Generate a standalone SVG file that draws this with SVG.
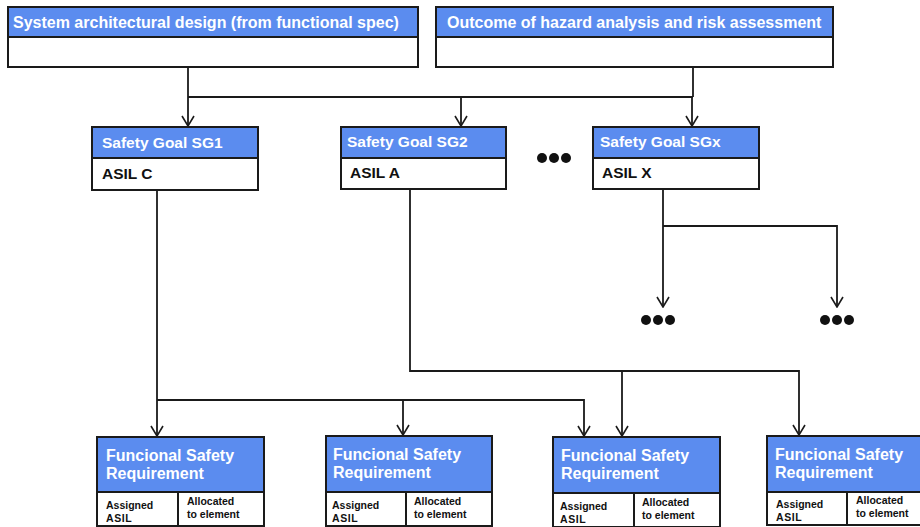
<svg xmlns="http://www.w3.org/2000/svg" width="920" height="527" viewBox="0 0 920 527">
<defs>
<marker id="arr" viewBox="0 0 14 12" refX="7" refY="11" markerWidth="14" markerHeight="12" markerUnits="userSpaceOnUse" orient="0">
<path d="M1,1 L7,11 L13,1" fill="none" stroke="#1a1a1a" stroke-width="1.6"/>
</marker>
</defs>
<style>
.hdr{fill:#5b8cef;stroke:#1a1a1a;stroke-width:2}
.body{fill:#ffffff;stroke:#1a1a1a;stroke-width:2}
.ht{font-family:"Liberation Sans",Arial,sans-serif;font-weight:bold;fill:#ffffff}
.bt{font-family:"Liberation Sans",Arial,sans-serif;font-weight:bold;fill:#111111}
.ln{fill:none;stroke:#1a1a1a;stroke-width:1.8}
.dot{fill:#111111}
</style>
<rect width="920" height="527" fill="#ffffff"/>

<g id="connectors">
<path class="ln" d="M188,67 V97"/>
<path class="ln" d="M693,67 V97"/>
<path class="ln" d="M188,97 H693"/>
<path class="ln" d="M188,97 V126" marker-end="url(#arr)"/>
<path class="ln" d="M461,97 V126" marker-end="url(#arr)"/>
<path class="ln" d="M692,97 V126" marker-end="url(#arr)"/>
<path class="ln" d="M663,189 V307" marker-end="url(#arr)"/>
<path class="ln" d="M663,226 H837 V307" marker-end="url(#arr)"/>
<path class="ln" d="M157,190 V436" marker-end="url(#arr)"/>
<path class="ln" d="M157,400 H584 V436" marker-end="url(#arr)"/>
<path class="ln" d="M403,400 V435" marker-end="url(#arr)"/>
<path class="ln" d="M410,189 V371 H799 V435" marker-end="url(#arr)"/>
<path class="ln" d="M622,371 V436" marker-end="url(#arr)"/>
</g>

<g id="sysarch">
<rect class="hdr" x="8" y="7" width="410" height="30"/>
<rect class="body" x="8" y="37" width="410" height="30"/>
<text class="ht" x="13" y="28" font-size="16">System architectural design (from functional spec)</text>
</g>

<g id="hara">
<rect class="hdr" x="436" y="7" width="397" height="30"/>
<rect class="body" x="436" y="37" width="397" height="30"/>
<text class="ht" x="447" y="28" font-size="16">Outcome of hazard analysis and risk assessment</text>
</g>

<g id="sg1">
<rect class="hdr" x="92" y="127" width="166" height="31"/>
<rect class="body" x="92" y="158" width="166" height="32"/>
<text class="ht" x="102" y="148" font-size="15.5">Safety Goal SG1</text>
<text class="bt" x="102" y="179" font-size="15.5">ASIL C</text>
</g>

<g id="sg2">
<rect class="hdr" x="341" y="127" width="165" height="31"/>
<rect class="body" x="341" y="158" width="165" height="31"/>
<text class="ht" x="347" y="147" font-size="15.5">Safety Goal SG2</text>
<text class="bt" x="350" y="178" font-size="15.5">ASIL A</text>
</g>

<g id="dots-mid">
<circle class="dot" cx="542" cy="158" r="5"/>
<circle class="dot" cx="554" cy="158" r="5"/>
<circle class="dot" cx="566" cy="158" r="5"/>
</g>

<g id="sgx">
<rect class="hdr" x="593" y="127" width="166" height="31"/>
<rect class="body" x="593" y="158" width="166" height="31"/>
<text class="ht" x="600" y="147" font-size="15.5">Safety Goal SGx</text>
<text class="bt" x="602" y="178" font-size="15.5">ASIL X</text>
</g>

<g id="dots-left">
<circle class="dot" cx="646" cy="320" r="5"/>
<circle class="dot" cx="658" cy="320" r="5"/>
<circle class="dot" cx="670" cy="320" r="5"/>
</g>
<g id="dots-right">
<circle class="dot" cx="825" cy="320" r="5"/>
<circle class="dot" cx="837" cy="320" r="5"/>
<circle class="dot" cx="849" cy="320" r="5"/>
</g>

<g id="fsr1">
<rect class="hdr" x="97" y="437" width="167" height="55"/>
<rect class="body" x="97" y="492" width="81" height="34"/>
<rect class="body" x="178" y="492" width="86" height="34"/>
<text class="ht" x="106" y="461" font-size="16">Funcional Safety</text>
<text class="ht" x="106" y="479" font-size="16">Requirement</text>
<text class="bt" x="106" y="509" font-size="10.5">Assigned</text>
<text class="bt" x="106" y="522" font-size="10.5" letter-spacing="0.6">ASIL</text>
<text class="bt" x="187" y="505" font-size="10.5">Allocated</text>
<text class="bt" x="187" y="518" font-size="10.5">to element</text>
</g>

<g id="fsr2">
<rect class="hdr" x="326" y="436" width="166" height="56"/>
<rect class="body" x="326" y="492" width="80" height="34"/>
<rect class="body" x="406" y="492" width="86" height="34"/>
<text class="ht" x="333" y="460" font-size="16">Funcional Safety</text>
<text class="ht" x="333" y="478" font-size="16">Requirement</text>
<text class="bt" x="332" y="509" font-size="10.5">Assigned</text>
<text class="bt" x="332" y="522" font-size="10.5" letter-spacing="0.6">ASIL</text>
<text class="bt" x="414" y="505" font-size="10.5">Allocated</text>
<text class="bt" x="414" y="518" font-size="10.5">to element</text>
</g>

<g id="fsr3">
<rect class="hdr" x="553" y="437" width="167" height="56"/>
<rect class="body" x="553" y="493" width="81" height="34"/>
<rect class="body" x="634" y="493" width="86" height="34"/>
<text class="ht" x="561" y="461" font-size="16">Funcional Safety</text>
<text class="ht" x="561" y="479" font-size="16">Requirement</text>
<text class="bt" x="560" y="510" font-size="10.5">Assigned</text>
<text class="bt" x="560" y="523" font-size="10.5" letter-spacing="0.6">ASIL</text>
<text class="bt" x="642" y="506" font-size="10.5">Allocated</text>
<text class="bt" x="642" y="519" font-size="10.5">to element</text>
</g>

<g id="fsr4">
<rect class="hdr" x="767" y="436" width="160" height="56"/>
<rect class="body" x="767" y="492" width="80" height="33"/>
<rect class="body" x="847" y="492" width="80" height="33"/>
<text class="ht" x="775" y="460" font-size="16">Funcional Safety</text>
<text class="ht" x="775" y="478" font-size="16">Requirement</text>
<text class="bt" x="776" y="508" font-size="10.5">Assigned</text>
<text class="bt" x="776" y="521" font-size="10.5" letter-spacing="0.6">ASIL</text>
<text class="bt" x="856" y="504" font-size="10.5">Allocated</text>
<text class="bt" x="856" y="517" font-size="10.5">to element</text>
</g>
</svg>
